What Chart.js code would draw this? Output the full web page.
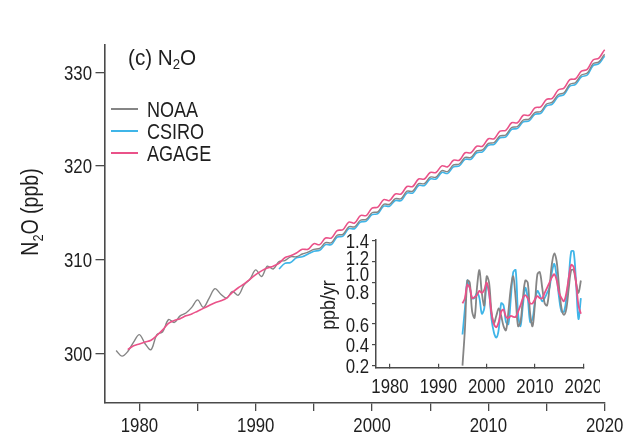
<!DOCTYPE html>
<html>
<head>
<meta charset="utf-8">
<title>N2O</title>
<script src="https://cdn.jsdelivr.net/npm/chart.js@4.4.1/dist/chart.umd.min.js"></script>
<style>
  html, body { margin: 0; padding: 0; background: #fff; }
  #wrap { position: relative; width: 633px; height: 437px; overflow: hidden; }
  #main { position: absolute; left: 0; top: 0; }
  #inset { position: absolute; left: 290px; top: 225px; }
</style>
</head>
<body>
<div id="wrap">
  <canvas id="main" width="633" height="437"></canvas>
  <canvas id="inset" width="310" height="170"></canvas>
</div>
<script>
// Half-yearly N2O mole fractions (ppb)
const years = [
  1977.5, 1978, 1978.5, 1979, 1979.5, 1980, 1980.5, 1981, 1981.5, 1982,
  1982.5, 1983, 1983.5, 1984, 1984.5, 1985, 1985.5, 1986, 1986.5, 1987,
  1987.5, 1988, 1988.5, 1989, 1989.5, 1990, 1990.5, 1991, 1991.5, 1992,
  1992.5, 1993, 1993.5, 1994, 1994.5, 1995, 1995.5, 1996, 1996.5, 1997,
  1997.5, 1998, 1998.5, 1999, 1999.5, 2000, 2000.5, 2001, 2001.5, 2002,
  2002.5, 2003, 2003.5, 2004, 2004.5, 2005, 2005.5, 2006, 2006.5, 2007,
  2007.5, 2008, 2008.5, 2009, 2009.5, 2010, 2010.5, 2011, 2011.5, 2012,
  2012.5, 2013, 2013.5, 2014, 2014.5, 2015, 2015.5, 2016, 2016.5, 2017,
  2017.5, 2018, 2018.5, 2019, 2019.5, 2020, 2020.5
];
const noaa = [
  null, 300.3, 299.7, 300.2, 301.2, 302.0, 301.0, 300.4, 302.0, 302.3,
  303.6, 303.3, 304.0, 304.3, 304.9, 305.7, 304.9, 305.9, 306.9, 306.3,
  305.9, 306.6, 306.2, 307.3, 307.9, 308.9, 308.2, 309.3, 309.0, 309.8,
  309.9, 310.3, 310.3, 310.6, 310.8, 311.1, 311.2, 311.8, 311.8, 312.6,
  312.7, 313.5, 313.5, 314.2, 314.3, 315.0, 315.1, 315.9, 315.9, 316.5,
  316.5, 317.3, 317.3, 318.1, 318.1, 318.8, 318.8, 319.5, 319.4, 320.1,
  320.2, 320.9, 320.9, 321.6, 321.7, 322.4, 322.5, 323.2, 323.3, 324.1,
  324.2, 324.9, 325.0, 325.7, 325.8, 326.6, 326.8, 327.6, 327.8, 328.7,
  328.9, 329.7, 329.9, 330.9, 331.1, 331.9, 332.2
];
const csiro = [
  null, null, null, null, null, null, null, null, null, null,
  null, null, null, null, null, null, null, null, null, null,
  null, null, null, null, null, null, null, null, null, 309.0,
  309.6, 309.7, 310.2, 310.3, 310.6, 310.9, 311.0, 311.6, 311.6, 312.4,
  312.5, 313.3, 313.3, 314.0, 314.1, 314.8, 314.9, 315.7, 315.7, 316.3,
  316.3, 317.1, 317.1, 317.9, 317.9, 318.6, 318.6, 319.3, 319.2, 319.9,
  320.0, 320.7, 320.7, 321.4, 321.5, 322.2, 322.3, 323.0, 323.1, 323.9,
  324.0, 324.7, 324.8, 325.5, 325.6, 326.4, 326.6, 327.4, 327.6, 328.5,
  328.7, 329.5, 329.7, 330.7, 330.9, 331.7, 332.1
];
const agage = [
  null, null, null, 300.4, 300.8, 301.0, 301.2, 301.4, 301.9, 302.5,
  303.2, 303.5, 303.7, 304.0, 304.2, 304.5, 304.8, 305.1, 305.4, 305.6,
  305.9, 306.5, 307.0, 307.4, 307.9, 308.4, 308.8, 309.1, 309.3, 309.6,
  310.2, 310.4, 310.7, 311.1, 311.1, 311.7, 311.6, 312.3, 312.3, 313.1,
  313.2, 314.0, 313.9, 314.7, 314.7, 315.5, 315.6, 316.4, 316.3, 317.0,
  317.0, 317.8, 317.8, 318.6, 318.6, 319.3, 319.3, 320.0, 319.9, 320.6,
  320.6, 321.4, 321.4, 322.1, 322.1, 322.9, 322.9, 323.7, 323.8, 324.6,
  324.6, 325.4, 325.4, 326.2, 326.3, 327.1, 327.2, 328.1, 328.3, 329.2,
  329.3, 330.1, 330.3, 331.3, 331.5, 332.4, 332.8
];
const xTicks = [1980, 1985, 1990, 1995, 2000, 2005, 2010, 2015, 2020];
const xTickLabels = ['1980', '', '1990', '', '2000', '', '2010', '', '2020'];
const yTicks = [300, 310, 320, 330];
const yTickLabels = ['300', '310', '320', '330'];

// Growth rates (ppb/yr) for the inset
const rateYears = [
  1995, 1995.5, 1996, 1996.5, 1997, 1997.5, 1998, 1998.5, 1999, 1999.5,
  2000, 2000.5, 2001, 2001.5, 2002, 2002.5, 2003, 2003.5, 2004, 2004.5,
  2005, 2005.5, 2006, 2006.5, 2007, 2007.5, 2008, 2008.5, 2009, 2009.5,
  2010, 2010.5, 2011, 2011.5, 2012, 2012.5, 2013, 2013.5, 2014, 2014.5,
  2015, 2015.5, 2016, 2016.5, 2017, 2017.5, 2018, 2018.5, 2019, 2019.5
];
const noaaRate = [
  0.20, 0.55, 1.02, 1.00, 0.72, 0.66, 0.95, 1.12, 0.90, 0.78,
  1.06, 1.00, 0.72, 0.61, 0.68, 0.75, 0.68, 0.58, 0.54, 0.72,
  0.95, 1.06, 0.85, 0.58, 0.62, 0.85, 1.02, 1.00, 0.70, 0.58,
  0.80, 1.08, 1.10, 0.95, 0.80, 0.78, 0.95, 1.18, 1.28, 1.20,
  0.95, 0.75, 0.69, 0.75, 0.95, 1.12, 1.12, 1.00, 0.90, 1.02
];
const csiroRate = [
  0.50, 0.75, 1.02, 0.95, 0.85, 0.85, 0.90, 0.85, 0.70, 0.75,
  0.98, 0.90, 0.65, 0.52, 0.47, 0.55, 0.80, 0.78, 0.62, 0.60,
  0.85, 1.10, 1.12, 0.70, 0.58, 0.78, 0.95, 0.85, 0.62, 0.65,
  0.82, 0.92, 0.88, 0.82, 0.85, 0.90, 0.95, 1.10, 1.18, 1.05,
  0.85, 0.72, 0.72, 0.85, 1.05, 1.30, 1.30, 1.00, 0.65, 0.85
];
const agageRate = [
  0.80, 0.85, 0.98, 0.95, 0.85, 0.86, 0.88, 0.92, 0.90, 0.93,
  1.00, 0.90, 0.70, 0.60, 0.57, 0.62, 0.72, 0.74, 0.67, 0.66,
  0.68, 0.67, 0.67, 0.72, 0.78, 0.85, 0.88, 0.85, 0.80, 0.80,
  0.84, 0.87, 0.85, 0.85, 0.90, 0.95, 1.00, 1.05, 1.08, 1.02,
  0.90, 0.85, 0.82, 0.90, 1.05, 1.17, 1.15, 1.00, 0.78, 0.70
];
const insetXTicks = [1980, 1990, 2000, 2010, 2020];
const insetXLabels = ['1980', '1990', '2000', '2010', '2020'];
const insetYTicks = [0.2, 0.4, 0.6, 0.8, 1.0, 1.2, 1.4];
const insetYLabels = ['0.2', '0.4', '0.6', '0.8', '1.0', '1.2', '1.4'];

const GREY = '#858585';
const BLUE = '#3fb5e8';
const PINK = '#ea5289';
const AXIS = '#4a4a4a';
const TEXT = '#1e1e1e';
const FONT = "'Liberation Sans', Arial, sans-serif";
const SQUEEZE = 0.8;   // condensed look for all text

Chart.defaults.font.family = FONT;
Chart.defaults.color = TEXT;

function toPoints(xs, ys) {
  return xs.map((x, i) => ({ x: x, y: ys[i] }));
}

function lineSet(label, xs, ys, color, width) {
  return {
    label: label,
    data: toPoints(xs, ys),
    borderColor: color,
    borderWidth: width,
    pointRadius: 0,
    tension: 0.35,
    fill: false,
    clip: false
  };
}

// condensed text; parts may carry a subscript flag (for N2O)
function drawText(ctx, parts, x, y, size, align, sx, rotate) {
  if (typeof parts === 'string') parts = [{ t: parts }];
  ctx.save();
  ctx.fillStyle = TEXT;
  ctx.textBaseline = 'alphabetic';
  ctx.textAlign = 'left';
  let w = 0;
  parts.forEach(p => {
    ctx.font = (p.sub ? Math.round(size * 0.65) : size) + 'px ' + FONT;
    w += ctx.measureText(p.t).width;
  });
  ctx.translate(x, y);
  if (rotate) ctx.rotate(rotate);
  ctx.scale(sx, 1);
  let cx = align === 'right' ? -w : align === 'center' ? -w / 2 : 0;
  const base = size * 0.36;   // put the cap-height centre on y
  parts.forEach(p => {
    ctx.font = (p.sub ? Math.round(size * 0.65) : size) + 'px ' + FONT;
    ctx.fillText(p.t, cx, p.sub ? base + size * 0.2 : base);
    cx += ctx.measureText(p.t).width;
  });
  ctx.restore();
}

const legendOrder = [
  { label: 'NOAA', color: GREY },
  { label: 'CSIRO', color: BLUE },
  { label: 'AGAGE', color: PINK }
];

const mainDecor = {
  id: 'mainDecor',
  afterDraw(chart) {
    const ctx = chart.ctx;
    const xs = chart.scales.x;
    const ys = chart.scales.y;

    // tick labels
    xTicks.forEach((v, i) => {
      if (xTickLabels[i]) drawText(ctx, xTickLabels[i], xs.getPixelForValue(v), 424, 21, 'center', SQUEEZE);
    });
    yTicks.forEach((v, i) => {
      drawText(ctx, yTickLabels[i], 92, ys.getPixelForValue(v), 21, 'right', SQUEEZE);
    });

    // panel title
    drawText(ctx, [{ t: '(c) N' }, { t: '2', sub: true }, { t: 'O' }], 128, 57, 22, 'left', 0.94);

    // legend
    legendOrder.forEach((item, i) => {
      const y = 109 + i * 22;
      ctx.save();
      ctx.strokeStyle = item.color;
      ctx.lineWidth = 2;
      ctx.beginPath();
      ctx.moveTo(111, y);
      ctx.lineTo(138, y);
      ctx.stroke();
      ctx.restore();
      drawText(ctx, item.label, 147, y, 22, 'left', 0.82);
    });

    // y axis title
    drawText(ctx, [{ t: 'N' }, { t: '2', sub: true }, { t: 'O (ppb)' }], 30, 212, 23, 'center', 0.85, -Math.PI / 2);
  }
};

// upper inset labels sit a little above their ticks
const labelLift = [0, 0, 0, 12, 9, 4, 1];

const insetDecor = {
  id: 'insetDecor',
  afterDraw(chart) {
    const ctx = chart.ctx;
    const xs = chart.scales.x;
    const ys = chart.scales.y;
    insetXTicks.forEach((v, i) => {
      drawText(ctx, insetXLabels[i], xs.getPixelForValue(v), 160, 21, 'center', SQUEEZE);
    });
    insetYTicks.forEach((v, i) => {
      drawText(ctx, insetYLabels[i], 79, ys.getPixelForValue(v) - labelLift[i], 21, 'right', SQUEEZE);
    });
    drawText(ctx, 'ppb/yr', 37, 80, 21, 'center', 0.85, -Math.PI / 2);
  }
};

new Chart(document.getElementById('main'), {
  type: 'line',
  data: {
    datasets: [
      lineSet('AGAGE', years, agage, PINK, 1.6),
      lineSet('NOAA', years, noaa, GREY, 1.4),
      lineSet('CSIRO', years, csiro, BLUE, 1.6)
    ]
  },
  options: {
    responsive: false,
    animation: false,
    events: [],
    layout: { padding: { left: 0, right: 28.3, top: 45, bottom: 0 } },
    plugins: { legend: { display: false }, tooltip: { enabled: false } },
    scales: {
      x: {
        type: 'linear',
        min: 1977,
        max: 2020,
        afterFit: s => { s.height = 34; },
        afterBuildTicks: s => { s.ticks = xTicks.map(v => ({ value: v })); },
        grid: { drawOnChartArea: false, tickLength: 8, color: AXIS, lineWidth: 1.3 },
        border: { color: AXIS, width: 1.6 },
        ticks: { display: false }
      },
      y: {
        min: 294.7,
        max: 332.9,
        afterFit: s => { s.width = 104.5; },
        afterBuildTicks: s => { s.ticks = yTicks.map(v => ({ value: v })); },
        grid: { drawOnChartArea: false, tickLength: 9, color: AXIS, lineWidth: 1.3 },
        border: { color: AXIS, width: 1.6 },
        ticks: { display: false }
      }
    }
  },
  plugins: [mainDecor]
});

new Chart(document.getElementById('inset'), {
  type: 'line',
  data: {
    datasets: [
      lineSet('AGAGE', rateYears, agageRate, PINK, 1.8),
      lineSet('NOAA', rateYears, noaaRate, GREY, 1.8),
      lineSet('CSIRO', rateYears, csiroRate, BLUE, 1.8)
    ]
  },
  options: {
    responsive: false,
    animation: false,
    events: [],
    layout: { padding: { left: 0, right: 16.7, top: 15, bottom: 0 } },
    plugins: { legend: { display: false }, tooltip: { enabled: false } },
    scales: {
      x: {
        type: 'linear',
        min: 1977.1,
        max: 2020,
        afterFit: s => { s.height = 27.3; },
        afterBuildTicks: s => { s.ticks = insetXTicks.map(v => ({ value: v })); },
        grid: { drawOnChartArea: false, tickLength: -4, color: AXIS, lineWidth: 1.2 },
        border: { color: AXIS, width: 1.5 },
        ticks: { display: false }
      },
      y: {
        min: 0.18,
        max: 1.41,
        afterFit: s => { s.width = 86; },
        afterBuildTicks: s => { s.ticks = insetYTicks.map(v => ({ value: v })); },
        grid: { drawOnChartArea: false, tickLength: 4, color: AXIS, lineWidth: 1.2 },
        border: { color: AXIS, width: 1.5 },
        ticks: { display: false }
      }
    }
  },
  plugins: [insetDecor]
});
</script>
</body>
</html>
